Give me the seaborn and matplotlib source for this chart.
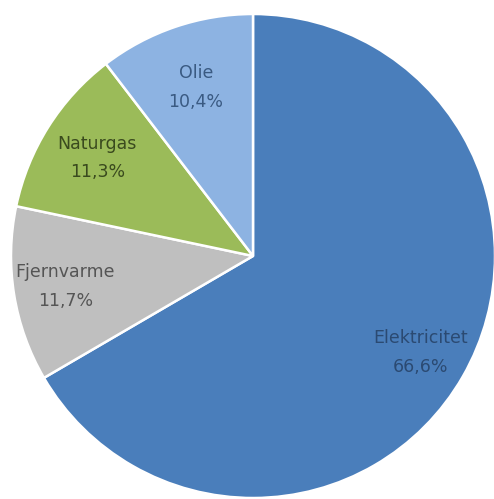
import numpy as np
import matplotlib
matplotlib.use("Agg")
import matplotlib.pyplot as plt
import seaborn as sns

# Energy source shares (%)
categories = ["Elektricitet", "Fjernvarme", "Naturgas", "Olie"]
shares = [66.6, 11.7, 11.3, 10.4]
share_labels = ["66,6%", "11,7%", "11,3%", "10,4%"]

colors = ["#4a7ebb", "#bfbfbf", "#9bbb59", "#8db3e2"]
text_colors = ["#2b4a72", "#555555", "#3a4a1e", "#3a5a82"]
label_radius = [0.80, 0.785, 0.76, 0.735]

sns.set_style("white")
plt.rcParams["font.family"] = ["DejaVu Sans"]

W, H = 494, 499
fig = plt.figure(figsize=(W / 100, H / 100), dpi=100)
cx, cy, r = 253, 256, 242
ax = fig.add_axes([(cx - r) / W, (H - cy - r) / H, 2 * r / W, 2 * r / H])

wedges, _ = ax.pie(
    shares,
    colors=colors,
    startangle=90,
    counterclock=False,
    radius=1.0,
    wedgeprops=dict(edgecolor="white", linewidth=1.8),
)

for w, name, pct, tc, lr in zip(wedges, categories, share_labels, text_colors, label_radius):
    mid = np.deg2rad((w.theta1 + w.theta2) / 2)
    x, y = lr * np.cos(mid), lr * np.sin(mid)
    ax.text(x, y, f"{name}\n{pct}", ha="center", va="center",
            fontsize=12.5, color=tc, linespacing=1.75)

ax.set_xlim(-1, 1)
ax.set_ylim(-1, 1)
ax.set_aspect("equal")
ax.axis("off")

fig.savefig("out.png", dpi=100)
